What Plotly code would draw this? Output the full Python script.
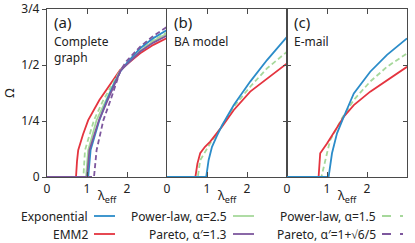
import plotly.graph_objects as go

# ---------------- data ----------------
x_ticks = [0, 1, 2]
y_tickvals = [0, 0.25, 0.5, 0.75]
y_ticktext = ["0", "1/4", "1/2", "3/4"]
panel_labels = ["(a)", "(b)", "(c)"]
panel_titles = [["Complete", "graph"], ["BA model"], ["E-mail"]]
x_title = "λ<sub>eff</sub>"
y_title = "Ω"

# Panel (a) complete graph
a_emm2_x = [0, 0.725, 0.75, 0.78, 0.9, 1.03, 1.31, 1.53, 1.83, 2.33, 2.66, 3.0]
a_emm2_y = [0, 0, 0.07, 0.12, 0.19, 0.254, 0.344, 0.403, 0.478, 0.552, 0.59, 0.62]
a_pl15_x = [0, 0.91, 0.95, 1.175, 1.41, 1.59, 1.83, 2.33, 2.66, 3.0]
a_pl15_y = [0, 0, 0.12, 0.254, 0.344, 0.403, 0.475, 0.565, 0.61, 0.645]
a_pl25_x = [0, 0.975, 1.03, 1.24, 1.48, 1.63, 1.83, 2.33, 2.66, 3.0]
a_pl25_y = [0, 0, 0.12, 0.254, 0.344, 0.403, 0.475, 0.563, 0.607, 0.64]
a_exp_x = [0, 1.03, 1.09, 1.31, 1.5, 1.66, 1.83, 2.0, 2.33, 2.66, 3.0]
a_exp_y = [0, 0, 0.12, 0.254, 0.344, 0.41, 0.47, 0.51, 0.575, 0.62, 0.656]
a_par2_x = [0, 1.175, 1.24, 1.41, 1.59, 1.7, 1.84, 2.0, 2.33, 2.66, 3.0]
a_par2_y = [0, 0, 0.12, 0.254, 0.344, 0.403, 0.478, 0.52, 0.582, 0.63, 0.67]
a_par13_x = [0, 1.0, 1.06, 1.3, 1.52, 1.67, 1.84, 2.33, 2.66, 3.0]
a_par13_y = [0, 0, 0.12, 0.254, 0.344, 0.403, 0.475, 0.56, 0.6, 0.632]

# Panel (b) BA model
b_emm2_x = [0, 0.71, 0.76, 0.83, 0.95, 1.08, 1.375, 1.67, 2.08, 2.5, 3.0]
b_emm2_y = [0, 0, 0.06, 0.106, 0.135, 0.158, 0.225, 0.299, 0.381, 0.44, 0.507]
b_pl15_x = [0, 0.77, 0.83, 1.08, 1.375, 1.67, 2.08, 2.5, 3.0]
b_pl15_y = [0, 0, 0.075, 0.15, 0.228, 0.314, 0.403, 0.485, 0.559]
b_exp_x = [0, 0.98, 1.04, 1.125, 1.25, 1.375, 1.67, 2.08, 2.5, 3.0]
b_exp_y = [0, 0, 0.075, 0.135, 0.185, 0.23, 0.321, 0.426, 0.522, 0.626]

# Panel (c) E-mail
c_emm2_x = [0, 0.79, 0.83, 1.0, 1.42, 1.67, 2.08, 2.5, 3.0]
c_emm2_y = [0, 0, 0.106, 0.15, 0.269, 0.321, 0.381, 0.433, 0.492]
c_pl15_x = [0, 0.86, 1.0, 1.08, 1.375, 1.67, 2.08, 2.5, 3.0]
c_pl15_y = [0, 0, 0.106, 0.165, 0.262, 0.344, 0.426, 0.492, 0.552]
c_exp_x = [0, 1.04, 1.125, 1.25, 1.42, 1.67, 2.08, 2.5, 3.0]
c_exp_y = [0, 0, 0.106, 0.195, 0.269, 0.373, 0.47, 0.545, 0.619]

# ---------------- styles ----------------
BLUE = "#2b8cc9"
RED = "#e4343f"
GREEN = "#a6d89b"
PURPLE = "#7d579e"
AX = "#4a4a4a"
FONT = "Noto Sans"
LW = 1.8

styles = {
    "Exponential": dict(color=BLUE, dash="solid"),
    "EMM2": dict(color=RED, dash="solid"),
    "Power-law, α=2.5": dict(color=GREEN, dash="solid"),
    "Pareto, α′=1.3": dict(color=PURPLE, dash="solid"),
    "Power-law, α=1.5": dict(color=GREEN, dash="5px,3px"),
    "Pareto, α′=1+√6/5": dict(color=PURPLE, dash="5px,3px"),
}

fig = go.Figure()

def add(x, y, name, ax):
    st = styles[name]
    fig.add_trace(go.Scatter(
        x=x, y=y, mode="lines", name=name, showlegend=False,
        line=dict(color=st["color"], dash=st["dash"], width=LW),
        xaxis="x" + ("" if ax == 1 else str(ax)),
        yaxis="y" + ("" if ax == 1 else str(ax)),
        hoverinfo="skip"))

add(a_emm2_x, a_emm2_y, "EMM2", 1)
add(a_pl15_x, a_pl15_y, "Power-law, α=1.5", 1)
add(a_pl25_x, a_pl25_y, "Power-law, α=2.5", 1)
add(a_exp_x, a_exp_y, "Exponential", 1)
add(a_par2_x, a_par2_y, "Pareto, α′=1+√6/5", 1)
add(a_par13_x, a_par13_y, "Pareto, α′=1.3", 1)

add(b_pl15_x, b_pl15_y, "Power-law, α=1.5", 2)
add(b_emm2_x, b_emm2_y, "EMM2", 2)
add(b_exp_x, b_exp_y, "Exponential", 2)

add(c_pl15_x, c_pl15_y, "Power-law, α=1.5", 3)
add(c_emm2_x, c_emm2_y, "EMM2", 3)
add(c_exp_x, c_exp_y, "Exponential", 3)

domains = [[0, 1/3], [1/3, 2/3], [2/3, 1]]
layout = dict(
    width=415, height=243,
    margin=dict(l=47, r=8, t=9, b=66),
    paper_bgcolor="white", plot_bgcolor="white",
    font=dict(family=FONT, size=12, color="#222"),
    showlegend=False,
)
for i in range(3):
    sfx = "" if i == 0 else str(i + 1)
    layout["xaxis" + sfx] = dict(
        domain=domains[i], range=[0, 3], anchor="y" + sfx, automargin=False,
        tickvals=x_ticks, ticks="inside", ticklen=5, tickcolor=AX,
        showline=True, linecolor=AX, linewidth=1.2, mirror="ticks",
        showgrid=False, zeroline=False,
        tickfont=dict(size=12, color="#222"),
    )
    ydict = dict(
        domain=[0, 1], range=[0, 0.75], anchor="x" + sfx, automargin=False,
        tickvals=y_tickvals, ticktext=y_ticktext,
        ticklen=4, tickcolor=AX,
        showline=True, linecolor=AX, linewidth=1.2,
        showgrid=False, zeroline=False,
        tickfont=dict(size=12, color="#222"),
    )
    if i == 0:
        ydict.update(ticks="outside", mirror=False,
                     title=dict(text=y_title, font=dict(size=13), standoff=6))
    else:
        ydict.update(ticks="inside", mirror="ticks", showticklabels=False)
    layout["yaxis" + sfx] = ydict

# inside ticks on the right edge of panel (a)
layout["yaxis4"] = dict(
    overlaying="y", side="right", anchor="x", range=[0, 0.75], automargin=False,
    tickvals=y_tickvals, ticks="inside", ticklen=5, tickcolor=AX,
    showticklabels=False, showgrid=False, zeroline=False, showline=False,
)
fig.update_layout(**layout)

def px(x):
    return (x - 47) / 360
def py(y):
    return (177 - y) / 168

# panel labels and x titles
for i in range(3):
    x0 = domains[i][0] + 5 / 360
    fig.add_annotation(xref="paper", yref="paper", x=x0, y=py(22),
                       text=panel_labels[i], showarrow=False, xanchor="left",
                       yanchor="middle", font=dict(size=15, color="#222"))
    for j, line in enumerate(panel_titles[i]):
        fig.add_annotation(xref="paper", yref="paper", x=x0,
                           y=py(41 + 17 * j), text=line,
                           showarrow=False, xanchor="left", yanchor="middle",
                           font=dict(size=12, color="#222"))
    fig.add_annotation(xref="paper", yref="paper",
                       x=(domains[i][0] + domains[i][1]) / 2, y=py(196),
                       text=x_title, showarrow=False, xanchor="center",
                       yanchor="middle", font=dict(size=13, color="#222"))

# legend (text, then line sample)
cols = [(90, 94, 115), (229, 233, 254), (378, 382, 403)]
rows = [216, 234]
order = [["Exponential", "EMM2"], ["Power-law, α=2.5", "Pareto, α′=1.3"],
         ["Power-law, α=1.5", "Pareto, α′=1+√6/5"]]
for c, (tx, l0, l1) in enumerate(cols):
    for r, yy in enumerate(rows):
        name = order[c][r]
        st = styles[name]
        fig.add_annotation(xref="paper", yref="paper", x=px(tx), y=py(yy),
                           text=name, showarrow=False, xanchor="right",
                           yanchor="middle", font=dict(size=12, color="#222"))
        fig.add_shape(type="line", xref="paper", yref="paper",
                      x0=px(l0), x1=px(l1), y0=py(yy), y1=py(yy),
                      line=dict(color=st["color"], width=LW,
                                dash="dash" if st["dash"] != "solid" else "solid"))

fig.write_html("out.html",
               config={"displayModeBar": False},
               post_script="document.body.style.margin='0';"
                           "document.body.style.padding='0';")
